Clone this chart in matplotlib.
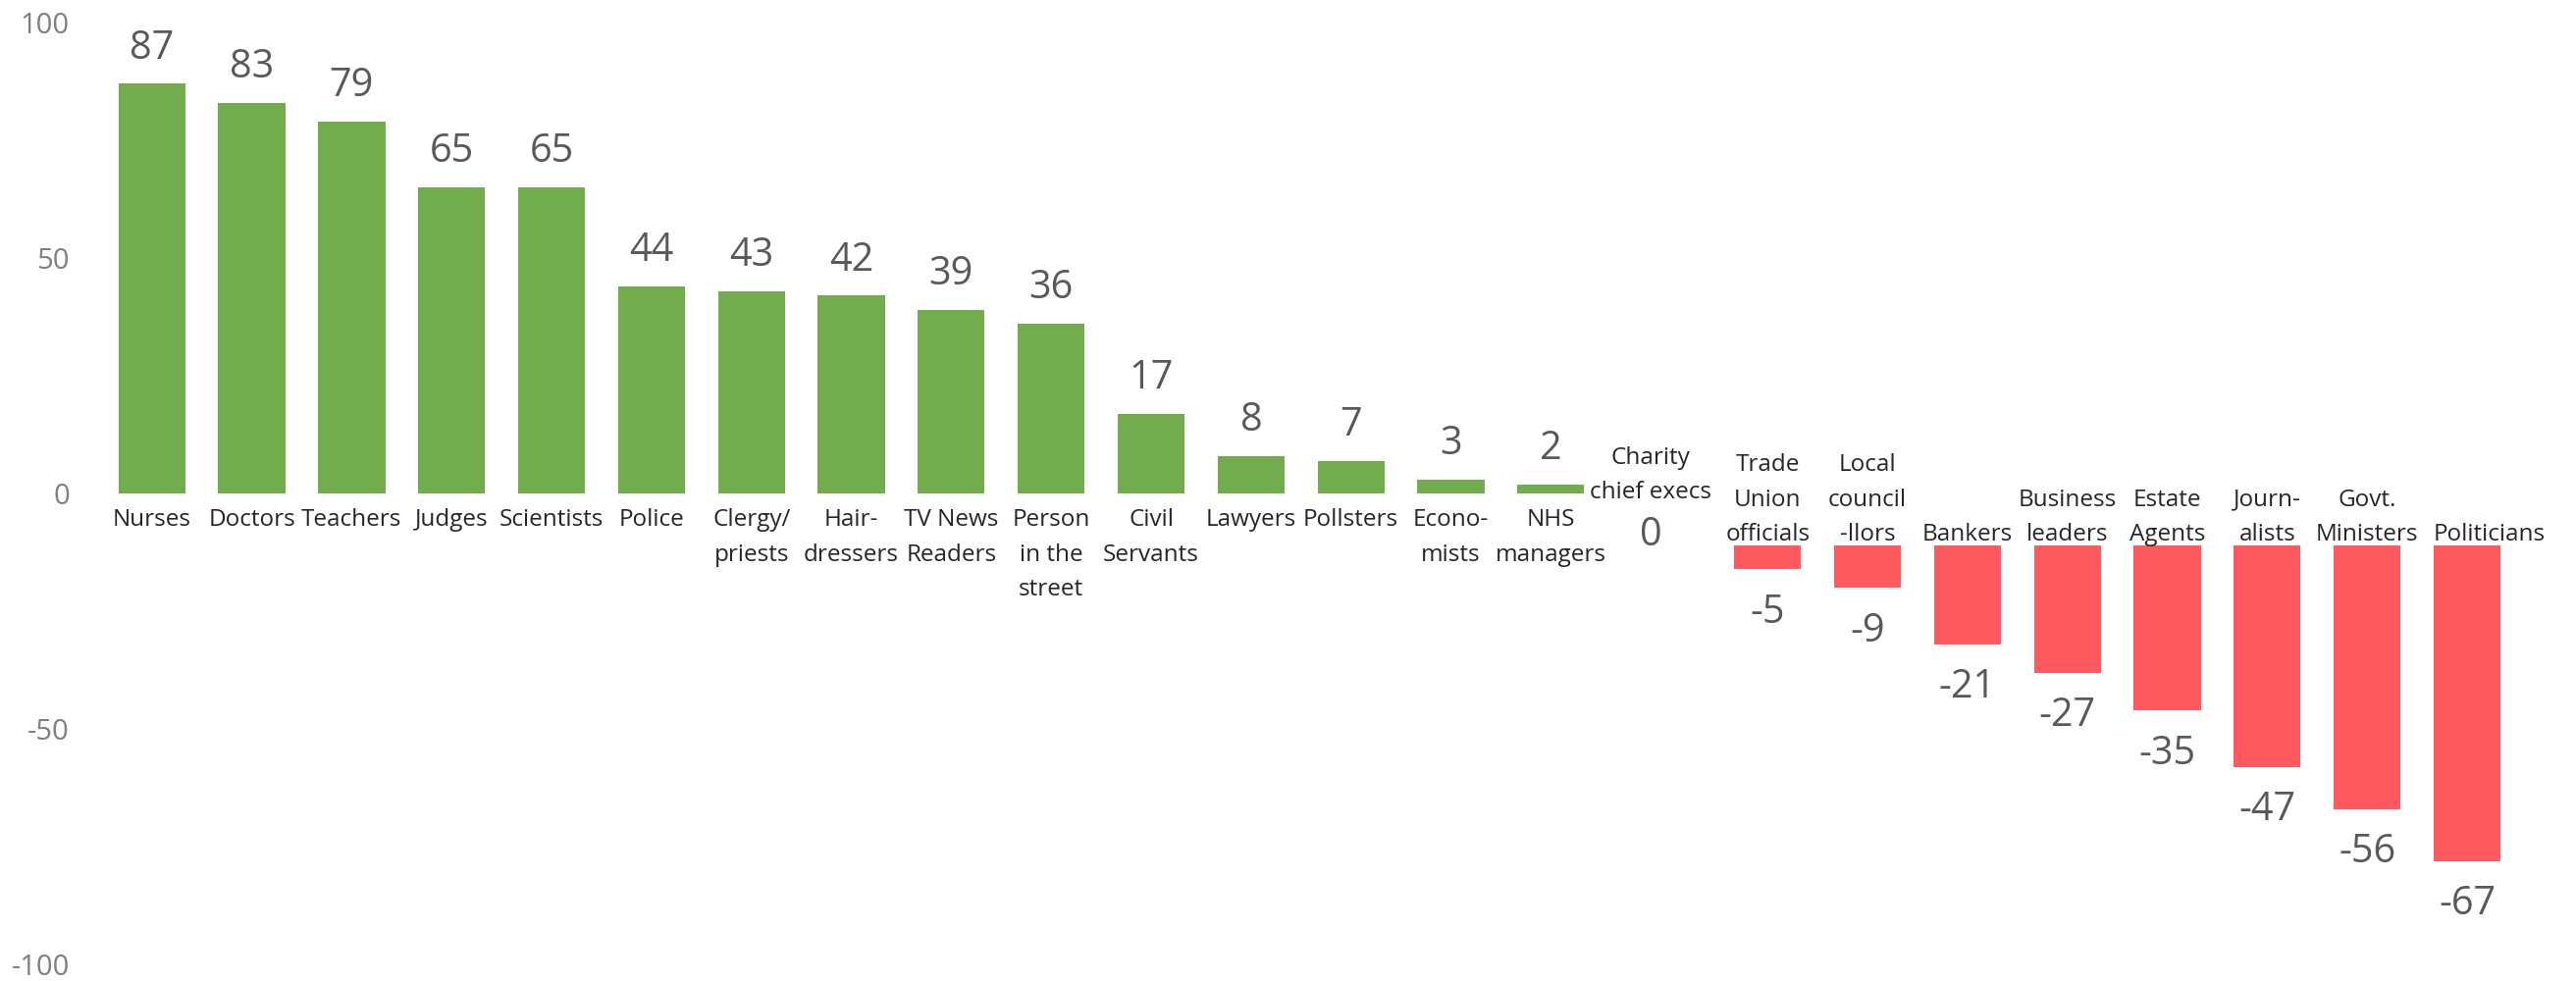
import numpy as np
import matplotlib.pyplot as plt

plt.rcParams['font.family'] = ['Open Sans', 'DejaVu Sans']

# trusted (green) professions
pos_labels = ["Nurses", "Doctors", "Teachers", "Judges", "Scientists", "Police",
              "Clergy/\npriests", "Hair-\ndressers", "TV News\nReaders",
              "Person\nin the\nstreet", "Civil\nServants", "Lawyers", "Pollsters",
              "Econo-\nmists", "NHS\nmanagers"]
pos_values = [87, 83, 79, 65, 65, 44, 43, 42, 39, 36, 17, 8, 7, 3, 2]

# neutral
zero_label = "Charity\nchief execs"
zero_value = 0

# distrusted (red) professions
neg_labels = ["Trade\nUnion\nofficials", "Local\ncouncil\n-llors", "Bankers",
              "Business\nleaders", "Estate\nAgents", "Journ-\nalists",
              "Govt.\nMinisters", "Politicians"]
neg_values = [-5, -9, -21, -27, -35, -47, -56, -67]

yticks = [100, 50, 0, -50, -100]

GREEN = "#72AC4D"
RED = "#FF5A5F"
VAL_C = "#595959"
CAT_C = "#262626"
TICK_C = "#7F7F7F"
RED_BASE = -11   # red bars hang below a gap under the zero line
RED_SHIFT = 0.17
BAR_W = 0.67
LS = 1.64

fig = plt.figure(figsize=(26.25, 10), dpi=100)
ax = fig.add_axes([0, 0, 1, 1])

x_pos = np.arange(len(pos_values))
x_zero = len(pos_values)
x_neg = np.arange(len(neg_values)) + x_zero + 1 + RED_SHIFT

ax.bar(x_pos, pos_values, width=BAR_W, color=GREEN)
ax.bar(x_neg, neg_values, width=BAR_W, bottom=RED_BASE, color=RED)

for x, v, lab in zip(x_pos, pos_values, pos_labels):
    ax.annotate(str(v), (x, v), xytext=(0, 26), textcoords="offset points",
                ha="center", va="center", fontsize=28.5, color=VAL_C)
    ax.annotate(lab, (x, 0), xytext=(0, -11), textcoords="offset points",
                ha="center", va="top", fontsize=17.5, color=CAT_C, linespacing=LS)

ax.annotate(str(zero_value), (x_zero, 0), xytext=(0, -31), textcoords="offset points",
            ha="center", va="center", fontsize=28.5, color=VAL_C)
ax.annotate(zero_label, (x_zero, 0), xytext=(0, -8), textcoords="offset points",
            ha="center", va="bottom", fontsize=17.5, color=CAT_C, linespacing=LS)

for x, v, lab in zip(x_neg, neg_values, neg_labels):
    ax.annotate(str(v), (x, RED_BASE + v), xytext=(0, -32), textcoords="offset points",
                ha="center", va="center", fontsize=28.5, color=VAL_C)
    if lab == "Politicians":
        # last label sits flush with the bar's left edge
        ax.annotate(lab, (x - BAR_W / 2, RED_BASE), xytext=(0, -1), textcoords="offset points",
                    ha="left", va="bottom", fontsize=17.5, color=CAT_C, linespacing=LS)
    else:
        ax.annotate(lab, (x, RED_BASE), xytext=(0, -1), textcoords="offset points",
                    ha="center", va="bottom", fontsize=17.5, color=CAT_C, linespacing=LS)

ax.set_xlim(-1.52, 24.26)
ax.set_ylim(-103.5, 104.8)
ax.set_yticks(yticks)
ax.set_yticklabels([str(t) for t in yticks])
ax.tick_params(axis="y", length=0, pad=-51, labelsize=21, labelcolor=TICK_C)
ax.set_xticks([])
for s in ax.spines.values():
    s.set_visible(False)

fig.savefig("out.png", dpi=100)
